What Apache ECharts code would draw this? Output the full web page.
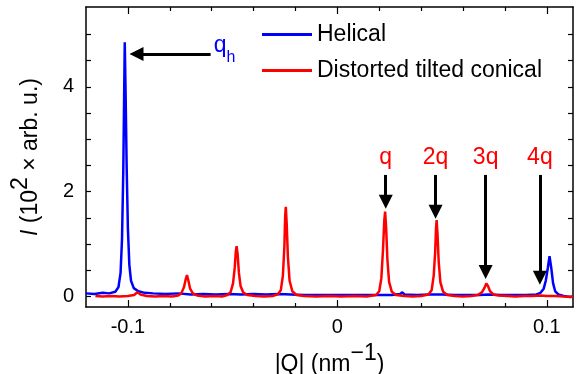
<!DOCTYPE html>
<html>
<head>
<meta charset="utf-8">
<script src="https://cdn.jsdelivr.net/npm/echarts@6.0.0/dist/echarts.min.js"></script>
<style>
  body { margin: 0; background: #fff; }
  #chart { width: 580px; height: 374px; }
</style>
</head>
<body>
<div id="chart"></div>
<script>
// values, [|Q|, I]
var helical = [
  [-0.120, 0.06], [-0.116, 0.05], [-0.112, 0.07], [-0.109, 0.06], [-0.106, 0.09],
  [-0.1045, 0.18], [-0.1035, 0.45], [-0.1028, 1.1], [-0.1022, 2.4], [-0.1018, 3.8],
  [-0.1015, 4.85], [-0.1011, 3.9], [-0.1006, 2.5], [-0.1000, 1.3], [-0.0993, 0.6],
  [-0.0985, 0.3], [-0.0972, 0.16], [-0.095, 0.1], [-0.092, 0.07], [-0.088, 0.06],
  [-0.082, 0.05], [-0.076, 0.06], [-0.070, 0.04], [-0.064, 0.05], [-0.058, 0.04],
  [-0.052, 0.05], [-0.046, 0.04], [-0.040, 0.05], [-0.034, 0.04], [-0.028, 0.05],
  [-0.022, 0.04], [-0.016, 0.03], [-0.010, 0.03], [-0.004, 0.03], [0.002, 0.03],
  [0.008, 0.03], [0.014, 0.03], [0.020, 0.03], [0.026, 0.03], [0.030, 0.05],
  [0.031, 0.08], [0.032, 0.04], [0.038, 0.03], [0.044, 0.04], [0.050, 0.04],
  [0.056, 0.03], [0.062, 0.03], [0.068, 0.03], [0.072, 0.04], [0.078, 0.03],
  [0.084, 0.03], [0.090, 0.03], [0.095, 0.04], [0.097, 0.07], [0.0985, 0.15],
  [0.0995, 0.3], [0.1005, 0.55], [0.1013, 0.77], [0.1021, 0.55], [0.103, 0.25],
  [0.104, 0.1], [0.1055, 0.04], [0.108, 0.01], [0.111, -0.01], [0.1125, 0.0]
];
var conical = [
  [-0.1155, 0.01], [-0.112, 0.0], [-0.108, 0.01], [-0.104, 0.0], [-0.100, 0.01],
  [-0.097, 0.03], [-0.0955, 0.08], [-0.094, 0.04], [-0.091, 0.01], [-0.087, 0.0],
  [-0.083, 0.01], [-0.079, 0.0], [-0.076, 0.02], [-0.0745, 0.06], [-0.0732, 0.18],
  [-0.0724, 0.33], [-0.0718, 0.41], [-0.0711, 0.3], [-0.0703, 0.15], [-0.069, 0.06],
  [-0.067, 0.02], [-0.063, 0.0], [-0.059, 0.01], [-0.055, 0.0], [-0.0525, 0.03],
  [-0.051, 0.08], [-0.0498, 0.25], [-0.049, 0.55], [-0.0485, 0.85], [-0.0481, 0.96],
  [-0.0476, 0.8], [-0.047, 0.45], [-0.0462, 0.2], [-0.045, 0.08], [-0.043, 0.03],
  [-0.039, 0.01], [-0.035, 0.0], [-0.031, 0.01], [-0.0285, 0.04], [-0.027, 0.12],
  [-0.026, 0.4], [-0.0253, 0.95], [-0.0249, 1.55], [-0.0246, 1.71], [-0.0242, 1.4],
  [-0.0236, 0.75], [-0.0228, 0.3], [-0.0215, 0.1], [-0.0195, 0.03], [-0.016, 0.01],
  [-0.010, 0.0], [-0.004, 0.01], [0.002, 0.0], [0.008, 0.01], [0.014, 0.0],
  [0.0185, 0.03], [0.020, 0.1], [0.021, 0.35], [0.0218, 0.9], [0.0224, 1.45],
  [0.0228, 1.62], [0.0233, 1.3], [0.0239, 0.7], [0.0247, 0.28], [0.026, 0.09],
  [0.028, 0.03], [0.032, 0.01], [0.036, 0.0], [0.040, 0.01], [0.0435, 0.04],
  [0.045, 0.12], [0.046, 0.4], [0.0467, 0.85], [0.0471, 1.3], [0.0474, 1.46],
  [0.0478, 1.2], [0.0484, 0.65], [0.0492, 0.27], [0.0505, 0.09], [0.0525, 0.03],
  [0.056, 0.01], [0.060, 0.0], [0.064, 0.01], [0.067, 0.03], [0.069, 0.08],
  [0.0703, 0.17], [0.0711, 0.25], [0.0719, 0.2], [0.0729, 0.1], [0.0745, 0.04],
  [0.077, 0.02], [0.081, 0.01], [0.085, 0.0], [0.089, 0.01], [0.093, 0.01],
  [0.097, 0.02], [0.100, 0.01], [0.104, 0.01], [0.108, 0.0], [0.1125, -0.01]
];

var xMajorTicks = [-0.1, 0, 0.1];
var xMinorTicks = [-0.08, -0.06, -0.04, -0.02, 0.02, 0.04, 0.06, 0.08];
var yTicks = [0, 0.5, 1, 1.5, 2, 2.5, 3, 3.5, 4, 4.5, 5];
var yLabels = [0, 2, 4];

// peak labels: [text, x, y]
var peakLabels = [['q', 0.0231, 2.65], ['2q', 0.0469, 2.65], ['3q', 0.0708, 2.65], ['4q', 0.0967, 2.65]];
// arrows: [x0, y0, x1, y1]
var arrows = [
  [-0.0605, 4.63, -0.0959, 4.63],
  [0.0231, 2.32, 0.0231, 1.81],
  [0.0469, 2.32, 0.0469, 1.62],
  [0.0708, 2.32, 0.0708, 0.47],
  [0.0967, 2.32, 0.0967, 0.36]
];
var qhLabel = [-0.0538, 4.55];

var FONT = '"Liberation Sans", Arial, sans-serif';
var black = '#000';

function xAxisBase(pos, ticks, len, withLine) {
  return {
    type: 'value', position: pos, min: -0.12, max: 0.1125,
    axisLine: { show: withLine, onZero: false, lineStyle: { color: black, width: 1.5 } },
    axisTick: { show: true, inside: true, length: len, customValues: ticks, lineStyle: { color: black, width: 1.2 } },
    axisLabel: { show: false },
    splitLine: { show: false }
  };
}
function yAxisBase(pos) {
  return {
    type: 'value', position: pos, min: -0.2, max: 5.525,
    axisLine: { show: true, onZero: false, lineStyle: { color: black, width: 1.5 } },
    axisTick: { show: true, inside: true, length: 5, customValues: yTicks, lineStyle: { color: black, width: 1.2 } },
    axisLabel: { show: false },
    splitLine: { show: false }
  };
}

var xMain = xAxisBase('bottom', xMajorTicks, 7, true);
xMain.axisLabel = {
  show: true, customValues: xMajorTicks, margin: 10,
  color: black, fontSize: 20, fontFamily: FONT,
  formatter: function (v) { return v === 0 ? '0' : String(+v.toFixed(2)); }
};
xMain.name = '|Q| (nm{sup|\u22121})';
xMain.nameLocation = 'middle';
xMain.nameGap = 29;
xMain.nameTextStyle = {
  color: black, fontSize: 23, fontFamily: FONT, lineHeight: 45,
  rich: { sup: { fontSize: 23, fontFamily: FONT, color: black, lineHeight: 24, verticalAlign: 'top' } }
};

var yMain = yAxisBase('left');
yMain.axisLabel = {
  show: true, customValues: yLabels, margin: 12,
  color: black, fontSize: 20, fontFamily: FONT
};
yMain.name = '{i|I} (10{sup|2} \u00d7 arb. u.)';
yMain.nameLocation = 'middle';
yMain.nameRotate = 90;
yMain.nameGap = 19;
yMain.nameTextStyle = {
  color: black, fontSize: 23, fontFamily: FONT, lineHeight: 43,
  rich: {
    i: { fontSize: 23, fontFamily: FONT, fontStyle: 'italic', color: black, lineHeight: 43 },
    sup: { fontSize: 23, fontFamily: FONT, color: black, lineHeight: 24, verticalAlign: 'top' }
  }
};

var chart = echarts.init(document.getElementById('chart'));
var option = {
  animation: false,
  backgroundColor: '#fff',
  grid: { left: 86, right: 7, top: 7, bottom: 67, containLabel: false, outerBoundsMode: 'none' },
  legend: {
    orient: 'vertical', left: 262, top: 23, padding: 0,
    icon: 'rect', itemWidth: 50, itemHeight: 3, itemGap: 13,
    textStyle: { color: black, fontSize: 23, fontFamily: FONT },
    data: ['Helical', 'Distorted tilted conical']
  },
  xAxis: [
    xMain,
    xAxisBase('bottom', xMinorTicks, 4, false),
    xAxisBase('top', xMajorTicks, 7, true),
    xAxisBase('top', xMinorTicks, 4, false)
  ],
  yAxis: [yMain, yAxisBase('right')],
  series: [
    {
      name: 'Helical', type: 'line', data: helical,
      showSymbol: false, symbol: 'none', color: '#0000ff',
      lineStyle: { width: 2.5, color: '#0000ff' },
      markPoint: {
        symbol: 'rect', symbolSize: 1, itemStyle: { color: 'rgba(0,0,0,0)' },
        label: {
          show: true, position: 'inside', formatter: '{q|q}{h|h}',
          rich: {
            q: { fontSize: 23, fontFamily: FONT, color: '#0000ff', lineHeight: 24, verticalAlign: 'top' },
            h: { fontSize: 16, fontFamily: FONT, color: '#0000ff', lineHeight: 48 }
          }
        },
        data: [{ coord: qhLabel }]
      }
    },
    {
      name: 'Distorted tilted conical', type: 'line', data: conical,
      showSymbol: false, symbol: 'none', color: '#ff0000',
      lineStyle: { width: 2.5, color: '#ff0000' },
      markPoint: {
        symbol: 'rect', symbolSize: 1, itemStyle: { color: 'rgba(0,0,0,0)' },
        label: {
          show: true, position: 'inside', formatter: '{b}',
          color: '#ff0000', fontSize: 23, fontFamily: FONT
        },
        data: peakLabels.map(function (p) { return { name: p[0], coord: [p[1], p[2]] }; })
      },
      markLine: {
        silent: true, symbol: ['none', 'triangle'], symbolSize: [14, 14],
        label: { show: false },
        lineStyle: { color: black, width: 3, type: 'solid' },
        data: arrows.map(function (a) {
          return [{ coord: [a[0], a[1]] }, { coord: [a[2], a[3]] }];
        })
      }
    }
  ]
};
chart.setOption(option);
</script>
</body>
</html>
